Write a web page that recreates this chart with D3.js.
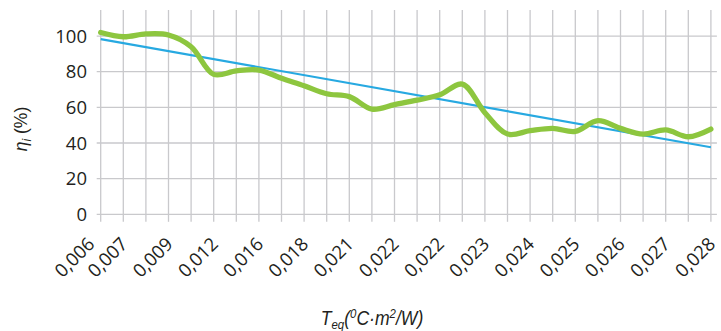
<!DOCTYPE html>
<html>
<head>
<meta charset="utf-8">
<script src="https://cdn.jsdelivr.net/npm/d3@7/dist/d3.min.js"></script>
<style>
  html, body { margin: 0; padding: 0; background: #ffffff; }
  svg { display: block; }
</style>
</head>
<body>
<svg id="chart" width="721" height="331"></svg>
<script>
// Measured efficiency (%) for each equivalent-temperature category
const efficiency = [
  102.0, 99.6, 101.2, 100.6, 94.0, 78.5, 80.5, 80.9, 76.3, 72.1,
  67.6, 66.0, 59.0, 61.5, 64.0, 67.0, 73.0, 57.0, 45.0, 46.9,
  48.2, 46.5, 52.5, 48.2, 45.0, 47.3, 43.5, 47.8
];

// Linear fit evaluated at the first and the last category
const trendEnds = [98.3, 37.6];

// Category tick labels and the category each one belongs to
const tickLabels = [
  "0,006", "0,007", "0,009", "0,012", "0,016", "0,018", "0,021", "0,022",
  "0,022", "0,023", "0,024", "0,025", "0,026", "0,027", "0,028"
];
const tickAt = [0, 1, 3, 5, 7, 9, 11, 13, 15, 17, 19, 21, 23, 25, 27];

// Value-axis ticks
const yTicks = [0, 20, 40, 60, 80, 100];

const svg = d3.select("#chart");
const textColor = "#231f20";
const gridColor = "#c9c9cc";

const x = d3.scalePoint()
  .domain(d3.range(efficiency.length))
  .range([100.7, 710.9]);

const y = d3.scaleLinear()
  .domain([0, 114.6])
  .range([214.3, 10]);

const plotLeft = x(0) - 4;
const plotRight = x(efficiency.length - 1) + 6;

// Vertical grid lines, running down past the axis as tick marks
svg.append("g")
  .selectAll("line")
  .data(x.domain())
  .join("line")
  .attr("x1", d => x(d)).attr("x2", d => x(d))
  .attr("y1", y(y.domain()[1])).attr("y2", y(0) + 7.5)
  .attr("stroke", gridColor)
  .attr("stroke-width", 1.3);

// Horizontal grid lines
svg.append("g")
  .selectAll("line")
  .data(yTicks)
  .join("line")
  .attr("x1", plotLeft).attr("x2", plotRight)
  .attr("y1", d => y(d)).attr("y2", d => y(d))
  .attr("stroke", gridColor)
  .attr("stroke-width", 1.3);

// Value-axis labels
svg.append("g")
  .selectAll("text")
  .data(yTicks)
  .join("text")
  .attr("x", 87)
  .attr("y", d => y(d))
  .attr("dy", "0.36em")
  .attr("text-anchor", "end")
  .attr("font-family", "'Open Sans', 'Noto Sans', sans-serif")
  .attr("font-size", 18.5)
  .attr("fill", textColor)
  .text(d => d);

// Category labels, rotated; a label is nudged left when it would crowd its neighbour
const anchors = tickAt.map(i => x(i) + 5.5);
for (let k = anchors.length - 2; k >= 0; k--) {
  anchors[k] = Math.min(anchors[k], anchors[k + 1] - 33);
}
svg.append("g")
  .selectAll("text")
  .data(tickLabels)
  .join("text")
  .attr("transform", (d, k) => `translate(${anchors[k]},${y(0) + 31}) rotate(-45)`)
  .attr("text-anchor", "end")
  .attr("font-family", "'Open Sans', 'Noto Sans', sans-serif")
  .attr("font-size", 18.5)
  .attr("fill", textColor)
  .text(d => d);

// Linear trend
const trendLine = d3.line()
  .x(d => x(d.i))
  .y(d => y(d.v));
svg.append("path")
  .datum([{ i: 0, v: trendEnds[0] }, { i: efficiency.length - 1, v: trendEnds[1] }])
  .attr("d", trendLine)
  .attr("fill", "none")
  .attr("stroke", "#27a9e1")
  .attr("stroke-width", 2.2);

// Smoothed efficiency curve
const effLine = d3.line()
  .x((d, i) => x(i))
  .y(d => y(d))
  .curve(d3.curveCatmullRom.alpha(0.5));
svg.append("path")
  .datum(efficiency)
  .attr("d", effLine)
  .attr("fill", "none")
  .attr("stroke", "#8dc63f")
  .attr("stroke-width", 5.3)
  .attr("stroke-linecap", "round")
  .attr("stroke-linejoin", "round");

// Axis titles (narrow italic face, compressed horizontally)
const titleFont = "'Liberation Sans Narrow', 'Arial Narrow', 'Liberation Sans', sans-serif";

const yTitle = svg.append("text")
  .attr("transform", "translate(27,129) rotate(-90) scale(0.92,1)")
  .attr("text-anchor", "middle")
  .attr("font-family", titleFont)
  .attr("font-size", 19)
  .attr("fill", textColor);
yTitle.append("tspan").attr("font-style", "italic").text("η");
yTitle.append("tspan").attr("font-style", "italic").attr("font-size", 13).attr("dy", 4).text("i");
yTitle.append("tspan").attr("dy", -4).text(" (%)");

const xTitle = svg.append("text")
  .attr("transform", "translate(372,325) scale(0.88,1)")
  .attr("text-anchor", "middle")
  .attr("font-family", titleFont)
  .attr("font-style", "italic")
  .attr("font-size", 20)
  .attr("fill", textColor);
xTitle.append("tspan").text("T");
xTitle.append("tspan").attr("font-size", 13).attr("dy", 4).text("eq");
xTitle.append("tspan").attr("dy", -4).text("(");
xTitle.append("tspan").attr("font-size", 13).attr("dy", -7).text("0");
xTitle.append("tspan").attr("dy", 7).text("C·m");
xTitle.append("tspan").attr("font-size", 13).attr("dy", -7).text("2");
xTitle.append("tspan").attr("dy", 7).text("/W)");
</script>
</body>
</html>
